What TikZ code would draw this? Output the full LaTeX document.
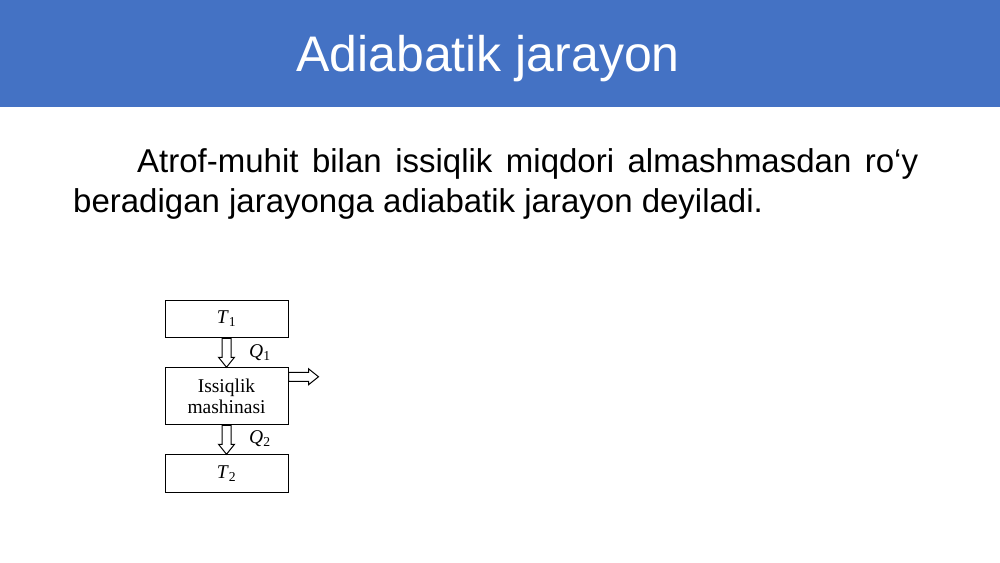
\documentclass[tikz,border=0pt]{standalone}
\usepackage{fontspec}
\setmainfont{Liberation Serif}
\newfontfamily\arialfont{Liberation Sans}
\usetikzlibrary{positioning,calc}

\definecolor{headblue}{HTML}{4472C4}

\tikzset{
    box/.style={draw, line width=1pt, minimum width=123pt, inner sep=0pt,
        align=center, font=\fontsize{19.5}{21}\selectfont},
    lbl/.style={inner sep=0pt, anchor=base west, font=\fontsize{19.5}{21}\selectfont},
    hollow/.style={draw, fill=white, line width=1pt, to path={
        ($(\tikztostart)!4.5pt!90:(\tikztotarget)$)
        -- ($(\tikztotarget)!10pt!(\tikztostart)!4.5pt!90:(\tikztotarget)$)
        -- ($(\tikztotarget)!10pt!(\tikztostart)!8pt!90:(\tikztotarget)$)
        -- (\tikztotarget)
        -- ($(\tikztotarget)!10pt!(\tikztostart)!8pt!-90:(\tikztotarget)$)
        -- ($(\tikztotarget)!10pt!(\tikztostart)!4.5pt!-90:(\tikztotarget)$)
        -- ($(\tikztostart)!4.5pt!-90:(\tikztotarget)$) -- cycle}}
}

\begin{document}
\begin{tikzpicture}[x=1pt,y=-1pt]
    \useasboundingbox (0,0) rectangle (1000,562);
    \fill[headblue] (0,0) rectangle (1000,107);
    \node[anchor=base, text=white, inner sep=0pt,
        font=\arialfont\fontsize{50}{60}\selectfont] (title) at (488,71) {Adiabatik jarayon};
    \node[anchor=north west, inner sep=0pt, text width=845pt, align=justify,
        font=\arialfont\fontsize{33}{40}\selectfont] (def) at (73,148)
        {\hspace*{64pt}Atrof-muhit bilan issiqlik miqdori almashmasdan ro‘y\linebreak
        beradigan jarayonga adiabatik jarayon deyiladi.};

    \node[box, minimum height=37.5pt] (t1) at (226.5,319) {\textit{T}\textsubscript{1}};
    \node[box, minimum height=57pt, below=29pt of t1] (m) {Issiqlik\\mashinasi};
    \node[box, minimum height=38pt, below=29pt of m] (t2) {\textit{T}\textsubscript{2}};
    \draw[hollow] (t1.south) to (m.north);
    \draw[hollow] (m.south) to (t2.north);
    \coordinate (w0) at ([yshift=19.5pt]m.east);
    \coordinate (w1) at ([xshift=30pt]w0);
    \draw[hollow] (w0) to (w1);
    \node[lbl] (q1) at (249,357) {\textit{Q}\textsubscript{1}};
    \node[lbl] (q2) at (249,443) {\textit{Q}\textsubscript{2}};
\end{tikzpicture}
\end{document}
